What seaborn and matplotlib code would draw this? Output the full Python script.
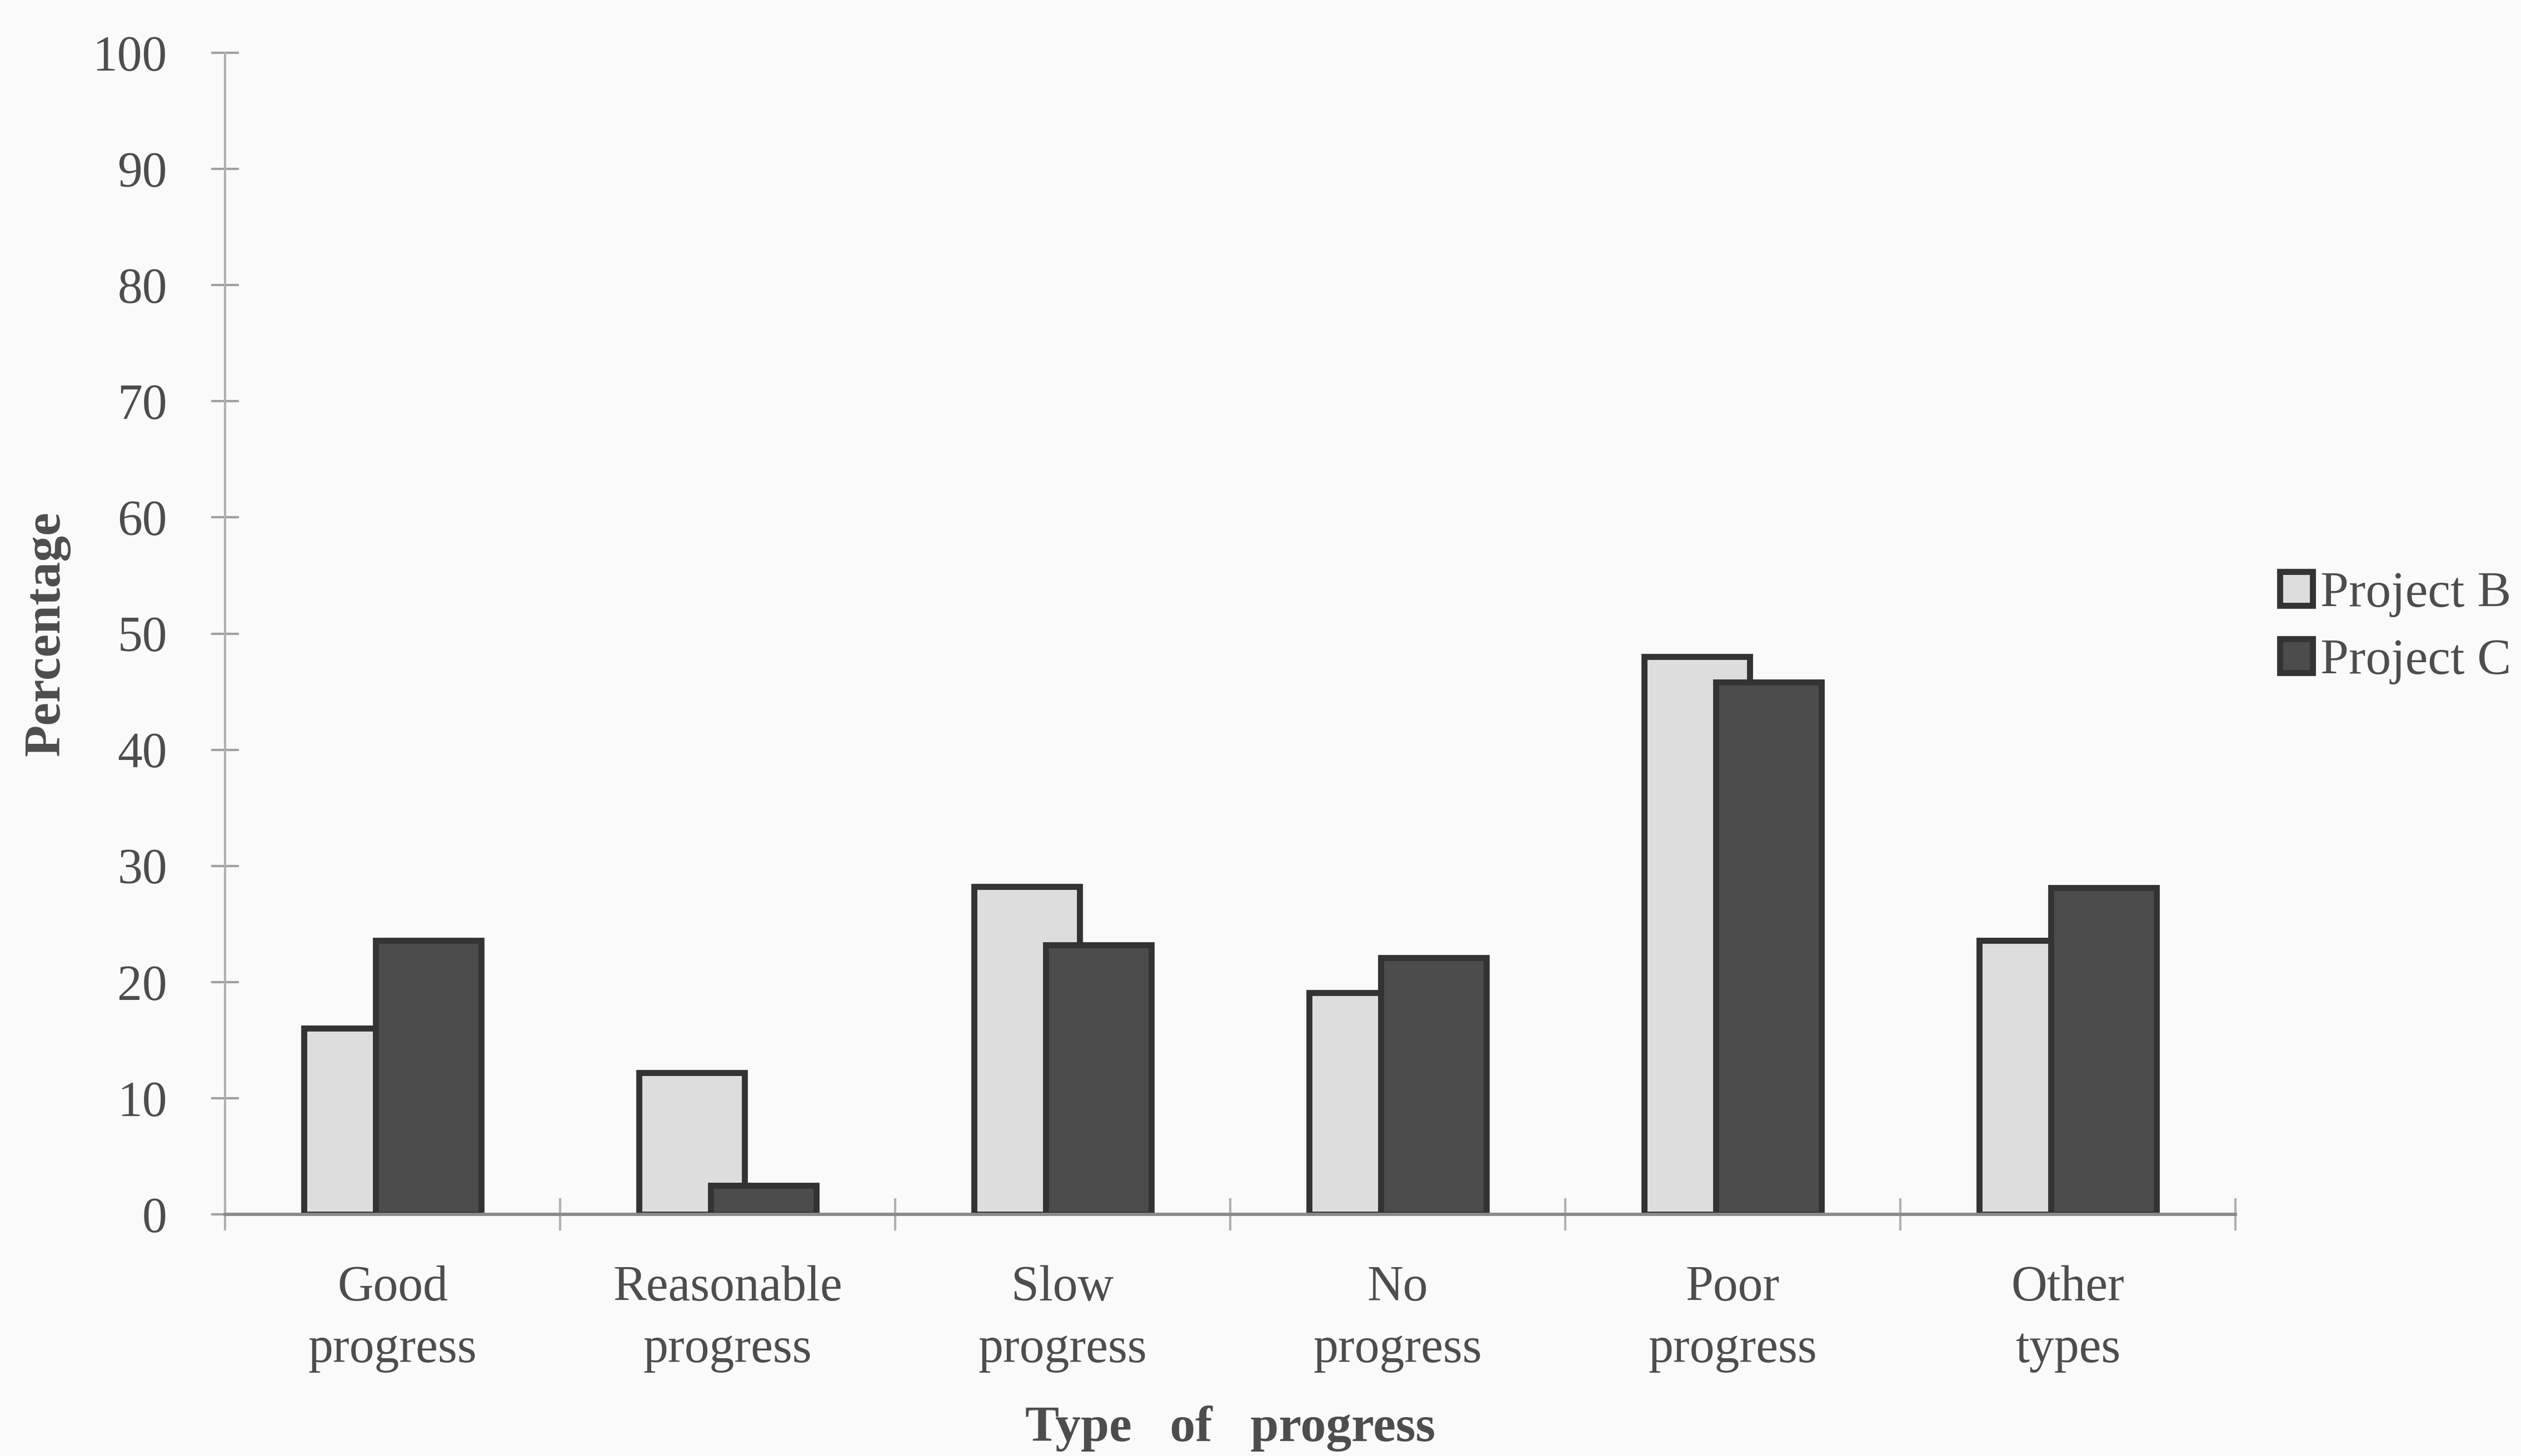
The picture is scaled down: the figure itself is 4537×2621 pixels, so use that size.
import numpy as np
import pandas as pd
import matplotlib
matplotlib.use("Agg")
import matplotlib.pyplot as plt
from matplotlib.ticker import FixedLocator
import seaborn as sns

# Share of each type of progress, per project (%)
categories = ["Good\nprogress", "Reasonable\nprogress", "Slow\nprogress",
              "No\nprogress", "Poor\nprogress", "Other\ntypes"]
project_b = [16.0, 12.2, 28.2, 19.1, 48.0, 23.6]
project_c = [23.6, 2.5, 23.2, 22.1, 45.8, 28.1]
series_names = ["Project B", "Project C"]
y_ticks = [0, 10, 20, 30, 40, 50, 60, 70, 80, 90, 100]

df = pd.DataFrame({
    "category": categories * 2,
    "value": project_b + project_c,
    "project": [series_names[0]] * len(categories) + [series_names[1]] * len(categories),
})

sns.set_theme(style="white")
plt.rcParams["font.family"] = ["Liberation Serif", "DejaVu Serif"]

TEXT = "#4d4d4d"
EDGE = "#333333"
BG = "#fafafa"

fig = plt.figure(figsize=(4537 / 300, 2621 / 300), dpi=300, facecolor=BG)
ax = fig.add_axes([405 / 4537, 1 - 2186 / 2621, (4023 - 405) / 4537, (2186 - 95) / 2621])
ax.set_facecolor(BG)

sns.barplot(data=df, x="category", y="value", hue="project", order=categories,
            hue_order=series_names, palette=["#dddddd", "#4c4c4c"],
            width=0.43, edgecolor=EDGE, linewidth=2.6, saturation=1,
            errorbar=None, ax=ax)

# widen the bars so each pair overlaps, keeping their centres
bar_w = 0.315
for p in ax.patches:
    if p.get_height() == 0 and p.get_width() == 0:
        continue
    cx = p.get_x() + p.get_width() / 2
    p.set_width(bar_w)
    p.set_x(cx - bar_w / 2)

ax.set_xlim(-0.5, len(categories) - 0.5)
ax.set_ylim(0, 100)
ax.set_yticks(y_ticks)
ax.set_yticklabels([str(t) for t in y_ticks])

for s in ["top", "right"]:
    ax.spines[s].set_visible(False)
ax.spines["left"].set_color("#b0b0b0")
ax.spines["left"].set_linewidth(1.0)
ax.spines["bottom"].set_color("#8a8a8a")
ax.spines["bottom"].set_linewidth(1.4)

ax.tick_params(axis="y", direction="inout", length=12, width=1.0, color="#a0a0a0",
               labelsize=21.5, labelcolor=TEXT, pad=19, left=True)
ax.tick_params(axis="x", which="major", length=0, labelsize=21.5, labelcolor=TEXT, pad=22)
ax.xaxis.set_minor_locator(FixedLocator(np.arange(-0.5, len(categories), 1.0)))
ax.tick_params(axis="x", which="minor", direction="inout", length=14, width=1.0,
               color="#b0b0b0", bottom=True)
for lab in ax.get_xticklabels():
    lab.set_linespacing(1.45)

ax.set_xlabel("Type   of   progress", fontsize=22, fontweight="bold", color=TEXT, labelpad=14)
ax.set_ylabel("Percentage", fontsize=22.5, fontweight="bold", color=TEXT)
ax.yaxis.set_label_coords(-0.077, 0.5)

sns.move_legend(ax, loc="center left", bbox_to_anchor=(1.022, 0.505), frameon=False,
                title=None, fontsize=22, handlelength=0.65, handleheight=0.65,
                handletextpad=0.15, labelspacing=0.42, borderpad=0, borderaxespad=0,
                labelcolor=TEXT)

fig.savefig("out.png", dpi=300, facecolor=BG)
